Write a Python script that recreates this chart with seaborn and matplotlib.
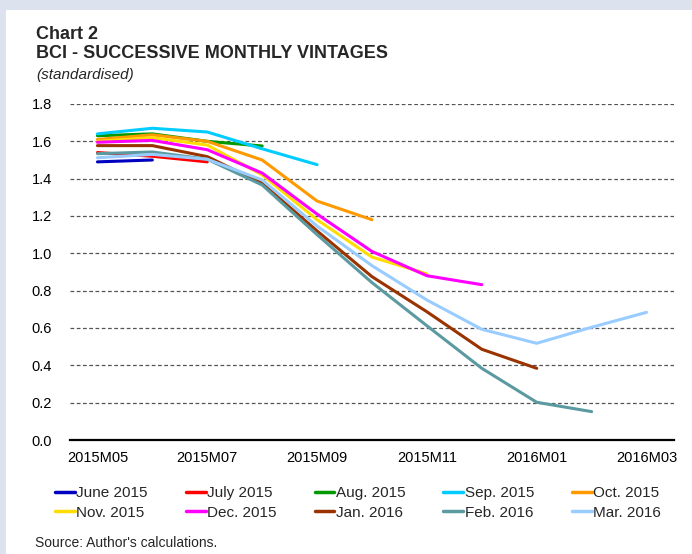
"""
BCI - successive monthly vintages (standardised)
"""
import pandas as pd
import numpy as np
import matplotlib
matplotlib.use('Agg')
import matplotlib.pyplot as plt
import seaborn as sns
from matplotlib.patches import Rectangle

# データ
months = ['2015M05', '2015M06', '2015M07', '2015M08', '2015M09', '2015M10',
          '2015M11', '2015M12', '2016M01', '2016M02', '2016M03']
tick_labels = ['2015M05', '2015M07', '2015M09', '2015M11', '2016M01', '2016M03']

vintages = ['June 2015', 'July 2015', 'Aug. 2015', 'Sep. 2015', 'Oct. 2015',
            'Nov. 2015', 'Dec. 2015', 'Jan. 2016', 'Feb. 2016', 'Mar. 2016']

june_2015 = [1.49, 1.50]
july_2015 = [1.54, 1.52, 1.49]
aug_2015 = [1.63, 1.64, 1.60, 1.575]
sep_2015 = [1.64, 1.67, 1.65, 1.56, 1.475]
oct_2015 = [1.61, 1.635, 1.60, 1.50, 1.28, 1.18]
nov_2015 = [1.60, 1.62, 1.58, 1.42, 1.18, 0.98, 0.89]
dec_2015 = [1.595, 1.605, 1.555, 1.43, 1.21, 1.01, 0.88, 0.832]
jan_2016 = [1.577, 1.577, 1.518, 1.375, 1.12, 0.875, 0.687, 0.486, 0.384]
feb_2016 = [1.534, 1.543, 1.504, 1.366, 1.10, 0.843, 0.612, 0.384, 0.202, 0.152]
mar_2016 = [1.512, 1.530, 1.504, 1.393, 1.146, 0.934, 0.75, 0.593, 0.518, 0.604, 0.684]

series = [june_2015, july_2015, aug_2015, sep_2015, oct_2015,
          nov_2015, dec_2015, jan_2016, feb_2016, mar_2016]

colors = ['#0000c0', '#ff0000', '#009a00', '#00ccff', '#ff9900',
          '#ffdd00', '#ff00ff', '#993300', '#5a9aa0', '#99ccff']

# long形式に変換
rows = []
for name, vals in zip(vintages, series):
    for m, v in zip(months, vals):
        rows.append({'month': m, 'value': v, 'vintage': name})
df = pd.DataFrame(rows)
df['month'] = pd.Categorical(df['month'], categories=months, ordered=True)
df['pos'] = df['month'].cat.codes

sns.set_style('white')
plt.rcParams['font.family'] = ['Liberation Sans', 'DejaVu Sans']

fig = plt.figure(figsize=(6.92, 5.54), dpi=100)
fig.patch.set_facecolor('white')

# 枠の背景
band = '#dce3ef'
fig.patches.append(Rectangle((0, 1 - 10 / 554), 1, 10 / 554, transform=fig.transFigure,
                             facecolor=band, edgecolor='none', zorder=0))
fig.patches.append(Rectangle((0, 0), 6 / 692, 1, transform=fig.transFigure,
                             facecolor=band, edgecolor='none', zorder=0))

ax = fig.add_axes([70 / 692, 1 - 440 / 554, (674 - 70) / 692, (440 - 104) / 554])

sns.lineplot(data=df, x='pos', y='value', hue='vintage', hue_order=vintages,
             palette=colors, linewidth=2.2, sort=False, ax=ax, legend=False)

ax.set_xlim(-0.5, len(months) - 0.5)
ax.set_ylim(0, 1.8)
ax.set_yticks(np.arange(0, 1.81, 0.2))
ax.set_yticklabels([f'{v:.1f}' for v in np.arange(0, 1.81, 0.2)], fontsize=10.5)
ax.set_xticks([months.index(t) for t in tick_labels])
ax.set_xticklabels(tick_labels, fontsize=10.5)
ax.tick_params(axis='both', length=0, colors='black')
ax.tick_params(axis='y', pad=13)
ax.tick_params(axis='x', pad=8)
ax.set_xlabel('')
ax.set_ylabel('')

for y in np.arange(0.2, 1.81, 0.2):
    ax.axhline(y, color='#555555', linewidth=0.9, linestyle=(0, (3, 2)), zorder=0)

for s in ['top', 'right', 'left']:
    ax.spines[s].set_visible(False)
ax.spines['bottom'].set_color('black')
ax.spines['bottom'].set_linewidth(1.6)

# 凡例（列方向に並ぶので順序を入れ替える）
handles = [plt.Line2D([], [], color=c, linewidth=2.5) for c in colors]
order = [0, 5, 1, 6, 2, 7, 3, 8, 4, 9]
fig.legend([handles[i] for i in order], [vintages[i] for i in order],
           ncol=5, loc='center left', bbox_to_anchor=(55 / 692, 1 - 503 / 554),
           frameon=False, fontsize=11, handlelength=1.3, handletextpad=0.08,
           columnspacing=2.5, labelspacing=0.35, borderaxespad=0, borderpad=0)

# タイトル
fig.text(36 / 692, 1 - 39 / 554, 'Chart 2', fontsize=13, fontweight='bold', va='baseline')
fig.text(36 / 692, 1 - 58.3 / 554, 'BCI - SUCCESSIVE MONTHLY VINTAGES', fontsize=13,
         fontweight='bold', va='baseline')
fig.text(36 / 692, 1 - 78.5 / 554, '(standardised)', fontsize=11, fontstyle='italic',
         va='baseline')
fig.text(35 / 692, 1 - 543 / 554, "Source: Author's calculations.", fontsize=10,
         va='center')

fig.savefig('out.png', dpi=100)
